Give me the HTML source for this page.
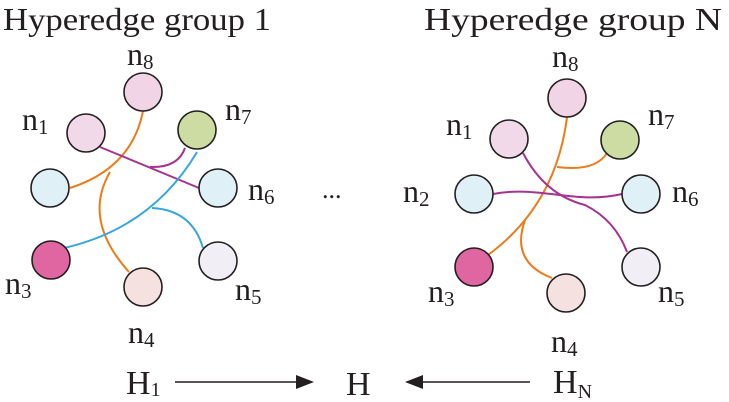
<!DOCTYPE html>
<html><head><meta charset="utf-8"><style>
html,body{margin:0;padding:0;background:#fff;}
svg{display:block;}
text{font-family:"Liberation Serif",serif;fill:#231f20;}
</style></head><body>
<svg width="729" height="402" viewBox="0 0 729 402" xmlns="http://www.w3.org/2000/svg">
<text x="3" y="30" font-size="32" textLength="268" lengthAdjust="spacingAndGlyphs">Hyperedge group 1</text>
<text x="424" y="30" font-size="32" textLength="298" lengthAdjust="spacingAndGlyphs">Hyperedge group N</text>

<g fill="none" stroke-width="2">
<path d="M143,111 Q132,168 70,188" stroke="#ee7b1a"/>
<path d="M110,172 Q82,220 129,272" stroke="#ee7b1a"/>
<path d="M100,147 L199,188" stroke="#a6338f"/>
<path d="M150,167 Q178,168 185,148" stroke="#a6338f"/>
<path d="M197,152 Q152,228 64,248" stroke="#36a6e0"/>
<path d="M152,208 Q192,210 203,248" stroke="#36a6e0"/>

<path d="M567,117 Q556,205 488,255" stroke="#ee7b1a"/>
<path d="M557,167 Q595,172 607,153" stroke="#ee7b1a"/>
<path d="M525,220 Q510,262 552,278" stroke="#ee7b1a"/>
<path d="M523,153 Q545,195 585,205 Q615,220 627,252" stroke="#a6338f"/>
<path d="M493,194 C540,185 575,205 622,194" stroke="#a6338f"/>
</g>

<g stroke="#231f20" stroke-width="1.6">
<circle cx="143" cy="92" r="19" fill="#f1d4e6"/>
<circle cx="86" cy="133" r="19" fill="#f1d9ea"/>
<circle cx="197" cy="130" r="19" fill="#cddca3"/>
<circle cx="50" cy="188" r="19" fill="#dff0f7"/>
<circle cx="218" cy="188" r="19" fill="#dff0f7"/>
<circle cx="51" cy="260" r="19" fill="#e066a1"/>
<circle cx="143" cy="287" r="19" fill="#f5e1e0"/>
<circle cx="218" cy="261" r="19" fill="#f1eef6"/>

<circle cx="567" cy="98" r="19" fill="#f1d4e6"/>
<circle cx="509" cy="139" r="19" fill="#f1d9ea"/>
<circle cx="620" cy="140" r="19" fill="#cddca3"/>
<circle cx="474" cy="194" r="19" fill="#dff0f7"/>
<circle cx="641" cy="194" r="19" fill="#dff0f7"/>
<circle cx="474" cy="267" r="19" fill="#e066a1"/>
<circle cx="566" cy="293" r="19" fill="#f5e1e0"/>
<circle cx="641" cy="267" r="19" fill="#f1eef6"/>
</g>

<g font-size="32">
<text x="127" y="65">n<tspan font-size="21" dy="4">8</tspan></text>
<text x="22" y="130">n<tspan font-size="21" dy="4">1</tspan></text>
<text x="225" y="120">n<tspan font-size="21" dy="4">7</tspan></text>
<text x="248" y="200">n<tspan font-size="21" dy="4">6</tspan></text>
<text x="5" y="294">n<tspan font-size="21" dy="4">3</tspan></text>
<text x="235" y="300">n<tspan font-size="21" dy="4">5</tspan></text>
<text x="128" y="343">n<tspan font-size="21" dy="4">4</tspan></text>

<text x="552" y="67">n<tspan font-size="21" dy="4">8</tspan></text>
<text x="446" y="135">n<tspan font-size="21" dy="4">1</tspan></text>
<text x="648" y="125">n<tspan font-size="21" dy="4">7</tspan></text>
<text x="403" y="202">n<tspan font-size="21" dy="4">2</tspan></text>
<text x="672" y="202">n<tspan font-size="21" dy="4">6</tspan></text>
<text x="428" y="302">n<tspan font-size="21" dy="4">3</tspan></text>
<text x="658" y="302">n<tspan font-size="21" dy="4">5</tspan></text>
<text x="551" y="352">n<tspan font-size="21" dy="4">4</tspan></text>

<text x="322" y="198" font-size="26">...</text>
</g>
<g font-size="34">
<text x="126" y="394">H<tspan font-size="20" dy="2">1</tspan></text>
<text x="346" y="395">H</text>
<text x="553" y="393">H<tspan font-size="20" dy="5">N</tspan></text>
</g>

<line x1="175" y1="382" x2="298" y2="382" stroke="#231f20" stroke-width="1.6"/>
<polygon points="314,382 296,375 296,389" fill="#231f20"/>
<line x1="530" y1="382" x2="420" y2="382" stroke="#231f20" stroke-width="1.6"/>
<polygon points="405,382 423,375 423,389" fill="#231f20"/>
</svg>
</body></html>
